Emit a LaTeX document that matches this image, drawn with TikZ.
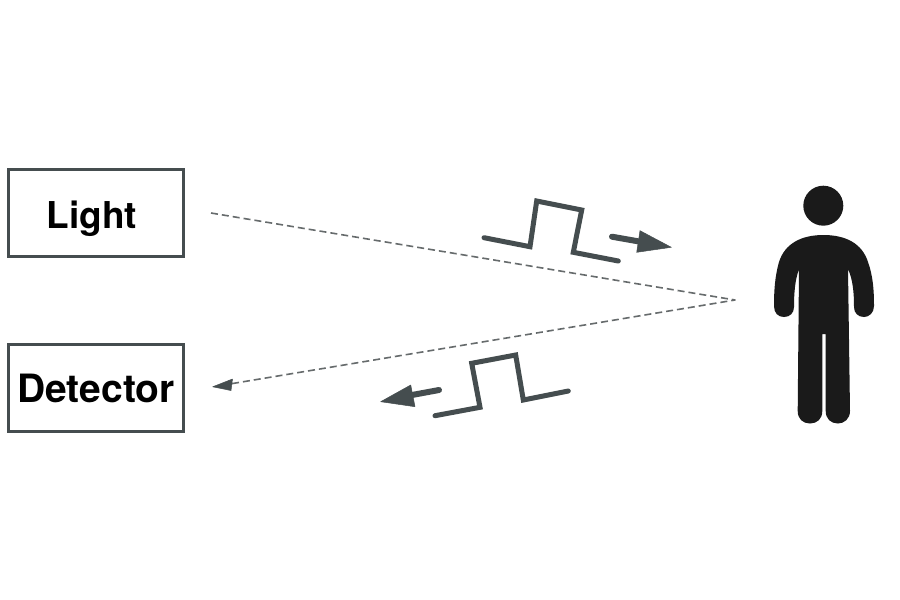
\documentclass[tikz,border=0pt]{standalone}
\usepackage{fontspec}
\setmainfont{TeX Gyre Heros}
\usetikzlibrary{arrows.meta}
\definecolor{ink}{HTML}{454D4F}
\definecolor{body}{HTML}{1A1A1A}
\definecolor{dash}{HTML}{666B6C}
\tikzset{
  box/.style={draw=ink,line width=3.2pt,fill=white,minimum width=175.5pt,minimum height=87pt,inner sep=0pt,text height=30pt,text depth=0pt,font=\fontsize{37}{37}\selectfont\bfseries,text=black},
  pulse/.style={draw=ink,line width=5pt,line join=miter,line cap=round},
  ray/.style={draw=dash,line width=1.6pt,line join=round,dash pattern=on 7pt off 4pt},
  dir/.style={draw=ink,line width=6pt,line cap=round},
  head/.style={fill=ink,draw=ink,line width=.5pt,line join=round},
  person/.style={fill=body,draw=none}
}
\begin{document}
\begin{tikzpicture}[x=1pt,y=-1pt]
\useasboundingbox[fill=white] (0,0) rectangle (900,600);
\node[box] (light) at (96,213.2) {\hspace*{-8pt}Light};
\node[box] (detector) at (96,387.7) {\fontsize{39}{39}\selectfont Detector};
\coordinate (lightout) at (211,213);
\coordinate (bounce) at (735,300);
\coordinate (detin) at (232,383.6);
\coordinate (dettip) at (212.7,386.8);
\draw[ray] (lightout) -- (bounce) -- (detin);
\fill[head] (dettip) -- (232.5,379) -- (231,390.5) -- cycle;
% outgoing pulse
\draw[pulse] (484,237.7) -- (530,246.7) -- (536.7,201) -- (581.7,210) -- (573.3,252.3) -- (618.3,261);
\coordinate (a1) at (612,236.7);
\coordinate (a2) at (642,242);
\draw[dir] (a1) -- (a2);
\fill[head] (671.3,247.3) -- (640,230.7) -- (636.7,252.3) -- cycle;
% returning pulse
\draw[pulse] (435,415.7) -- (480,407.3) -- (471.7,363.3) -- (515.7,355) -- (523.3,400) -- (568.3,391);
\coordinate (b1) at (439,390);
\coordinate (b2) at (412,395);
\draw[dir] (b1) -- (b2);
\fill[head] (380.7,401.7) -- (410.7,385) -- (415,406.7) -- cycle;
% person
\fill[person] (823.3,205.7) circle (20);
\fill[person]
  (823.5,235)
  .. controls (845,235) and (862,243) .. (868,262)
  .. controls (873,276) and (874,290) .. (874,306)
  .. controls (874,313) and (869,317) .. (864,317)
  .. controls (858,317) and (854,313) .. (854,307)
  .. controls (854,293) and (853,280) .. (848,269)
  -- (850,411)
  .. controls (850,419) and (844,423.5) .. (838,423.5)
  .. controls (831,423.5) and (825.7,419) .. (825.7,411)
  -- (825.7,334) -- (822.3,334) -- (822.3,411)
  .. controls (822.3,419) and (817,423.5) .. (810,423.5)
  .. controls (803,423.5) and (797.7,419) .. (797.7,411)
  -- (799,269)
  .. controls (795,280) and (794,293) .. (794,307)
  .. controls (794,313) and (790,317) .. (784,317)
  .. controls (778,317) and (774,313) .. (774,306)
  .. controls (774,290) and (775,276) .. (779,262)
  .. controls (785,243) and (802,235) .. (823.5,235)
  -- cycle;
\end{tikzpicture}
\end{document}
